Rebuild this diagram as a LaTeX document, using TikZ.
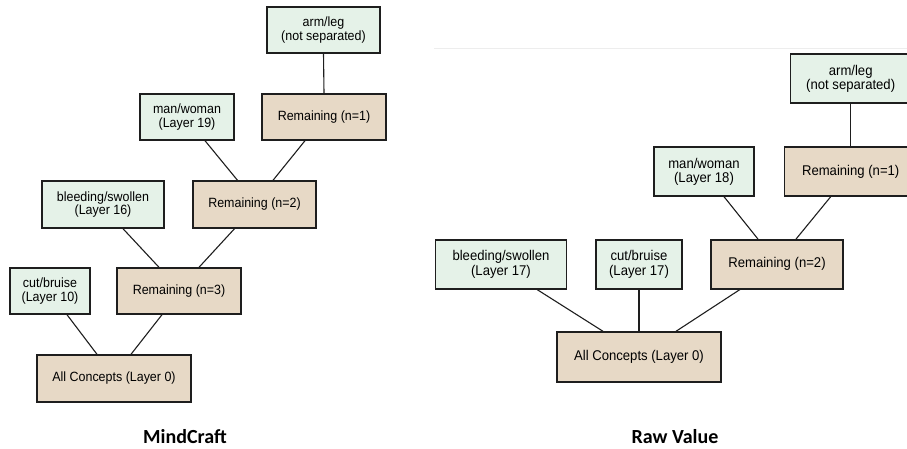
\documentclass[tikz,border=0pt]{standalone}
\usepackage{fontspec}
\setmainfont{Liberation Sans}[FakeStretch=0.93]
\newfontfamily\titlefont{Carlito}
\definecolor{leafgreen}{HTML}{E5F2E8}
\definecolor{resttan}{HTML}{E7D9C6}
\definecolor{edgegray}{HTML}{1E1E1E}
\begin{document}
\begin{tikzpicture}[x=1pt,y=-1pt,
  box/.style={draw=edgegray,line width=1.4pt,inner sep=0pt,align=center},
  leaf/.style={box,fill=leafgreen},
  rest/.style={box,fill=resttan},
  link/.style={draw=edgegray,line width=1.1pt},
  lfont/.style={font=\fontsize{13.4}{13.6}\selectfont},
  rfont/.style={font=\fontsize{14.1}{14.2}\selectfont},
  paneltitle/.style={font=\titlefont\bfseries\fontsize{20}{24}\selectfont}]
\useasboundingbox (0,0) rectangle (907,449);
\clip (0,0) rectangle (907,449);

% ---- MindCraft tree ----
\begin{scope}[every node/.append style={lfont}]
\node[leaf,minimum width=113,minimum height=46] (armL) at (323.5,30) {arm/leg\\(not separated)};
\node[rest,minimum width=124,minimum height=46] (n1L) at (324,117) {Remaining (n=1)};
\node[leaf,minimum width=94,minimum height=46] (manL) at (187,117) {man/woman\\(Layer 19)};
\node[rest,minimum width=123,minimum height=47] (n2L) at (254.5,204.5) {Remaining (n=2)};
\node[leaf,minimum width=122,minimum height=47] (bleedL) at (103,204.5) {bleeding/swollen\\(Layer 16)};
\node[rest,minimum width=124,minimum height=46] (n3L) at (179,291) {Remaining (n=3)};
\node[leaf,minimum width=80,minimum height=46] (cutL) at (50,291) {cut/bruise\\(Layer 10)};
\node[rest,minimum width=154,minimum height=47] (allL) at (114,378.5) {All Concepts (Layer 0)};
\end{scope}
\draw[link] ([xshift=17]cutL.south) -- ([xshift=-17]allL.north);
\draw[link] ([xshift=-17]n3L.south) -- ([xshift=17]allL.north);
\draw[link] ([xshift=20]bleedL.south) -- ([xshift=-20]n3L.north);
\draw[link] ([xshift=-20]n2L.south) -- ([xshift=20]n3L.north);
\draw[link] ([xshift=18]manL.south) -- ([xshift=-17]n2L.north);
\draw[link] ([xshift=-19]n1L.south) -- ([xshift=18.5]n2L.north);
\draw[link] (armL.south) -- (n1L.north);
\node[paneltitle] (titleL) at (185,437) {MindCraft};

% ---- Raw Value tree ----
\draw[draw=black!7,line width=0.8pt] (434,48) coordinate (ruleA) -- (907,48) coordinate (ruleB);
\begin{scope}[every node/.append style={rfont}]
\node[leaf,minimum width=121,minimum height=49] (armR) at (850.7,78.5) {arm/leg\\(not separated)};
\node[rest,minimum width=132,minimum height=49] (n1R) at (850.7,171.5) {Remaining (n=1)};
\node[leaf,minimum width=100,minimum height=49] (manR) at (704,171.5) {man/woman\\(Layer 18)};
\node[rest,minimum width=132,minimum height=49] (n2R) at (777,264.3) {Remaining (n=2)};
\node[leaf,minimum width=131,minimum height=49] (bleedR) at (501,264.3) {bleeding/swollen\\(Layer 17)};
\node[leaf,minimum width=86,minimum height=49] (cutR) at (639,264.3) {cut/bruise\\(Layer 17)};
\node[rest,minimum width=164,minimum height=50] (allR) at (639,357) {All Concepts (Layer 0)};
\end{scope}
\draw[link] ([xshift=36]bleedR.south) -- ([xshift=-36]allR.north);
\draw[link] (cutR.south) -- (allR.north);
\draw[link] ([xshift=-37]n2R.south) -- ([xshift=37]allR.north);
\draw[link] ([xshift=20]manR.south) -- ([xshift=-19]n2R.north);
\draw[link] ([xshift=-20]n1R.south) -- ([xshift=19]n2R.north);
\draw[link] (armR.south) -- (n1R.north);
\node[paneltitle] (titleR) at (675,437) {Raw Value};
\end{tikzpicture}
\end{document}
